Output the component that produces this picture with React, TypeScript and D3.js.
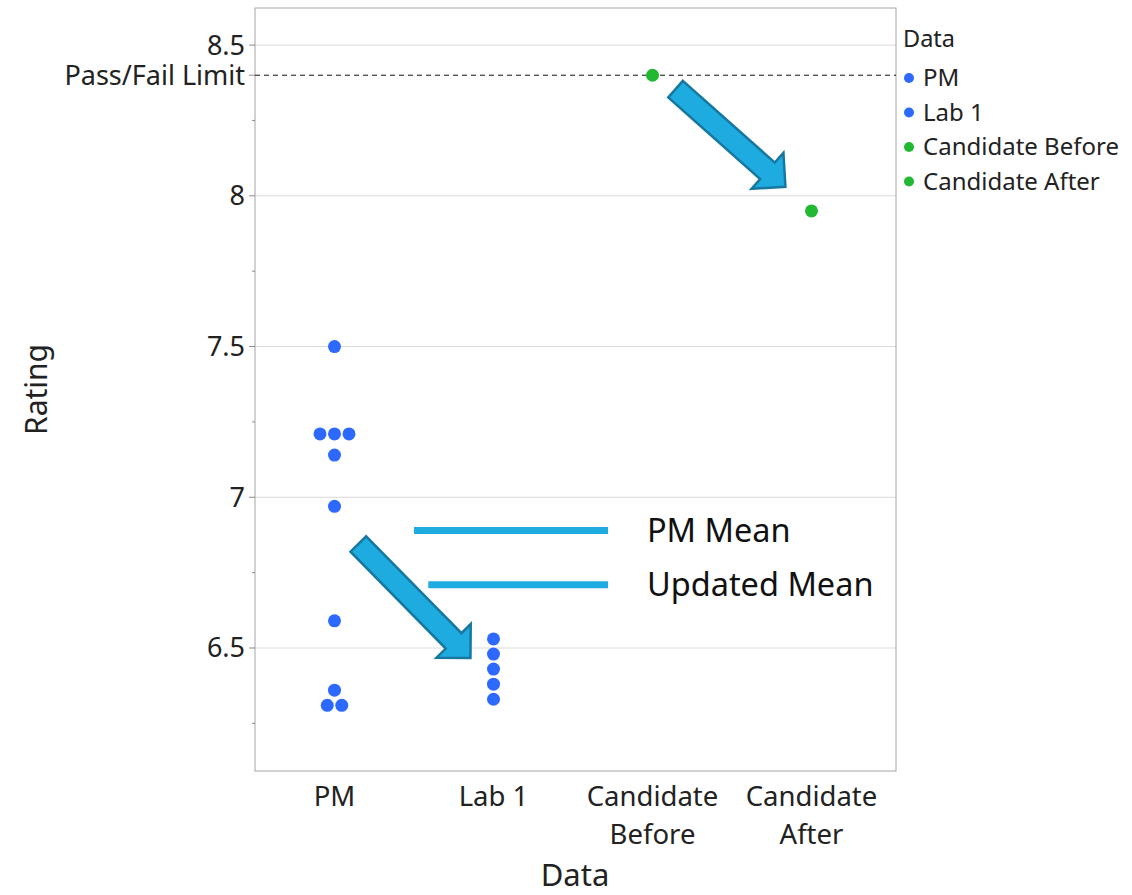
import React, { useEffect, useRef } from 'react';
import * as d3 from 'd3';

// categories on the x axis, with their two-line tick labels
const categories = ['PM', 'Lab 1', 'Candidate Before', 'Candidate After'];
const tickLines = [['PM'], ['Lab 1'], ['Candidate', 'Before'], ['Candidate', 'After']];

// ratings
const pmValues = [7.5, 7.21, 7.21, 7.21, 7.14, 6.97, 6.59, 6.36, 6.31, 6.31];
const labValues = [6.53, 6.48, 6.43, 6.38, 6.33];
const beforeValues = [8.4];
const afterValues = [7.95];

const majorTicks = [6.5, 7, 7.5, 8, 8.5];
const minorTicks = [6.25, 6.75, 7.25, 7.75, 8.25];
const passFail = 8.4;

// annotation positions (category index, rating)
const pmMean = 6.89;
const updatedMean = 6.71;
const meanLines = [
  { label: 'PM Mean', value: pmMean, from: 0.5 },
  { label: 'Updated Mean', value: updatedMean, from: 0.59 }
];
const arrows = [
  { x0: 0.15, y0: 6.845, x1: 0.855, y1: 6.467 },
  { x0: 2.145, y0: 8.354, x1: 2.836, y1: 8.03 }
];

const BLUE = '#2d69ff';
const GREEN = '#22b832';
const ARROW_FILL = '#1eabe0';
const ARROW_STROKE = '#16789f';
const FONT = "'Noto Sans', 'Open Sans', sans-serif";

export default function App() {
  const svgRef = useRef<SVGSVGElement>(null);

  useEffect(() => {
    if (!svgRef.current) return;
    const svg = d3.select(svgRef.current);
    svg.selectAll('*').remove();

    const width = 1132;
    const height = 895;
    const left = 255, right = 896, top = 8, bottom = 771;

    const y = d3.scaleLinear().domain([6.092, 8.623]).range([bottom, top]);
    const x = d3.scalePoint<string>().domain(categories).range([left, right - 5]).padding(0.5);
    const xi = d3.scaleLinear().domain([0, 3]).range([x(categories[0])!, x(categories[3])!]);

    svg.attr('width', width).attr('height', height).style('font-family', FONT);

    // grid
    svg.append('g').selectAll('line').data(majorTicks).join('line')
      .attr('x1', left).attr('x2', right)
      .attr('y1', d => y(d)).attr('y2', d => y(d))
      .attr('stroke', '#dadada').attr('stroke-width', 1);

    // frame
    svg.append('rect')
      .attr('x', left).attr('y', top)
      .attr('width', right - left).attr('height', bottom - top)
      .attr('fill', 'none').attr('stroke', '#a6a6a6');

    // y axis ticks
    const yAxis = svg.append('g');
    yAxis.selectAll('line.major').data([...majorTicks, passFail]).join('line')
      .attr('class', 'major')
      .attr('x1', left - 6).attr('x2', left)
      .attr('y1', d => y(d)).attr('y2', d => y(d))
      .attr('stroke', '#8c8c8c');
    yAxis.selectAll('line.minor').data(minorTicks).join('line')
      .attr('class', 'minor')
      .attr('x1', left - 3).attr('x2', left)
      .attr('y1', d => y(d)).attr('y2', d => y(d))
      .attr('stroke', '#8c8c8c');
    yAxis.selectAll('text').data(majorTicks).join('text')
      .attr('x', left - 10).attr('y', d => y(d))
      .attr('dy', '0.35em').attr('text-anchor', 'end')
      .attr('font-size', 27).attr('fill', '#222')
      .text(d => d3.format('')(d));
    yAxis.append('text')
      .attr('x', left - 10).attr('y', y(passFail))
      .attr('dy', '0.38em').attr('text-anchor', 'end')
      .attr('font-size', 27).attr('fill', '#222')
      .text('Pass/Fail Limit');

    // pass/fail line
    svg.append('line')
      .attr('x1', left).attr('x2', right)
      .attr('y1', y(passFail)).attr('y2', y(passFail))
      .attr('stroke', '#111').attr('stroke-dasharray', '5,4');

    // x tick labels
    const xt = svg.append('g');
    categories.forEach((c, i) => {
      const t = xt.append('text')
        .attr('x', x(c)!).attr('y', 806)
        .attr('text-anchor', 'middle').attr('font-size', 27.5).attr('fill', '#222');
      tickLines[i].forEach((line, j) => {
        t.append('tspan').attr('x', x(c)!).attr('dy', j === 0 ? 0 : 38).text(line);
      });
    });

    // axis titles
    svg.append('text')
      .attr('x', 575).attr('y', 886)
      .attr('text-anchor', 'middle').attr('font-size', 31).attr('fill', '#222')
      .text('Data');
    svg.append('text')
      .attr('transform', `translate(47,${(top + bottom) / 2}) rotate(-90)`)
      .attr('text-anchor', 'middle').attr('font-size', 30).attr('fill', '#222')
      .text('Rating');

    // points: identical values are spread sideways
    const spacing = 14.5;
    const groups: { cat: string; values: number[]; color: string }[] = [
      { cat: categories[0], values: pmValues, color: BLUE },
      { cat: categories[1], values: labValues, color: BLUE },
      { cat: categories[2], values: beforeValues, color: GREEN },
      { cat: categories[3], values: afterValues, color: GREEN }
    ];
    const pts: { cx: number; cy: number; color: string }[] = [];
    groups.forEach(g => {
      const counts = d3.rollup(g.values, v => v.length, v => v);
      const seen = new Map<number, number>();
      g.values.forEach(v => {
        const n = counts.get(v)!;
        const k = seen.get(v) || 0;
        seen.set(v, k + 1);
        pts.push({ cx: x(g.cat)! + (k - (n - 1) / 2) * spacing, cy: y(v), color: g.color });
      });
    });
    svg.append('g').selectAll('circle').data(pts).join('circle')
      .attr('cx', d => d.cx).attr('cy', d => d.cy).attr('r', 6.5)
      .attr('fill', d => d.color);

    // legend
    const lg = svg.append('g').attr('transform', 'translate(903,0)');
    lg.append('text').attr('x', 0).attr('y', 47).attr('font-size', 23.5).attr('fill', '#222').text('Data');
    groups.forEach((g, i) => {
      const yy = 78 + i * 34.5;
      lg.append('circle').attr('cx', 6).attr('cy', yy).attr('r', 5).attr('fill', g.color);
      lg.append('text').attr('x', 20).attr('y', yy).attr('dy', '0.35em')
        .attr('font-size', 24).attr('fill', '#222').text(g.cat);
    });

    // mean annotation lines
    const ann = svg.append('g');
    meanLines.forEach(m => {
      ann.append('line')
        .attr('x1', xi(m.from)).attr('x2', xi(1.72))
        .attr('y1', y(m.value)).attr('y2', y(m.value))
        .attr('stroke', ARROW_FILL).attr('stroke-width', 7);
      ann.append('text')
        .attr('x', xi(1.965)).attr('y', y(m.value)).attr('dy', '0.35em')
        .attr('font-size', 32.5).attr('fill', '#111').text(m.label);
    });

    // block arrows
    const shaft = 22, headW = 48, headL = 24;
    arrows.forEach(a => {
      const sx = xi(a.x0), sy = y(a.y0), ex = xi(a.x1), ey = y(a.y1);
      const len = Math.hypot(ex - sx, ey - sy);
      const ang = Math.atan2(ey - sy, ex - sx) * 180 / Math.PI;
      const b = len - headL;
      const shape: [number, number][] = [
        [0, -shaft / 2], [b, -shaft / 2], [b, -headW / 2], [len, 0],
        [b, headW / 2], [b, shaft / 2], [0, shaft / 2]
      ];
      ann.append('path')
        .attr('transform', `translate(${sx},${sy}) rotate(${ang})`)
        .attr('d', d3.line()(shape) + 'Z')
        .attr('fill', ARROW_FILL).attr('stroke', ARROW_STROKE).attr('stroke-width', 2.5)
        .attr('stroke-linejoin', 'miter');
    });
  }, []);

  return (
    <div style={{ position: 'absolute', left: 0, top: 0, background: '#fff' }}>
      <svg ref={svgRef} width={1132} height={895} style={{ display: 'block' }} />
    </div>
  );
}
